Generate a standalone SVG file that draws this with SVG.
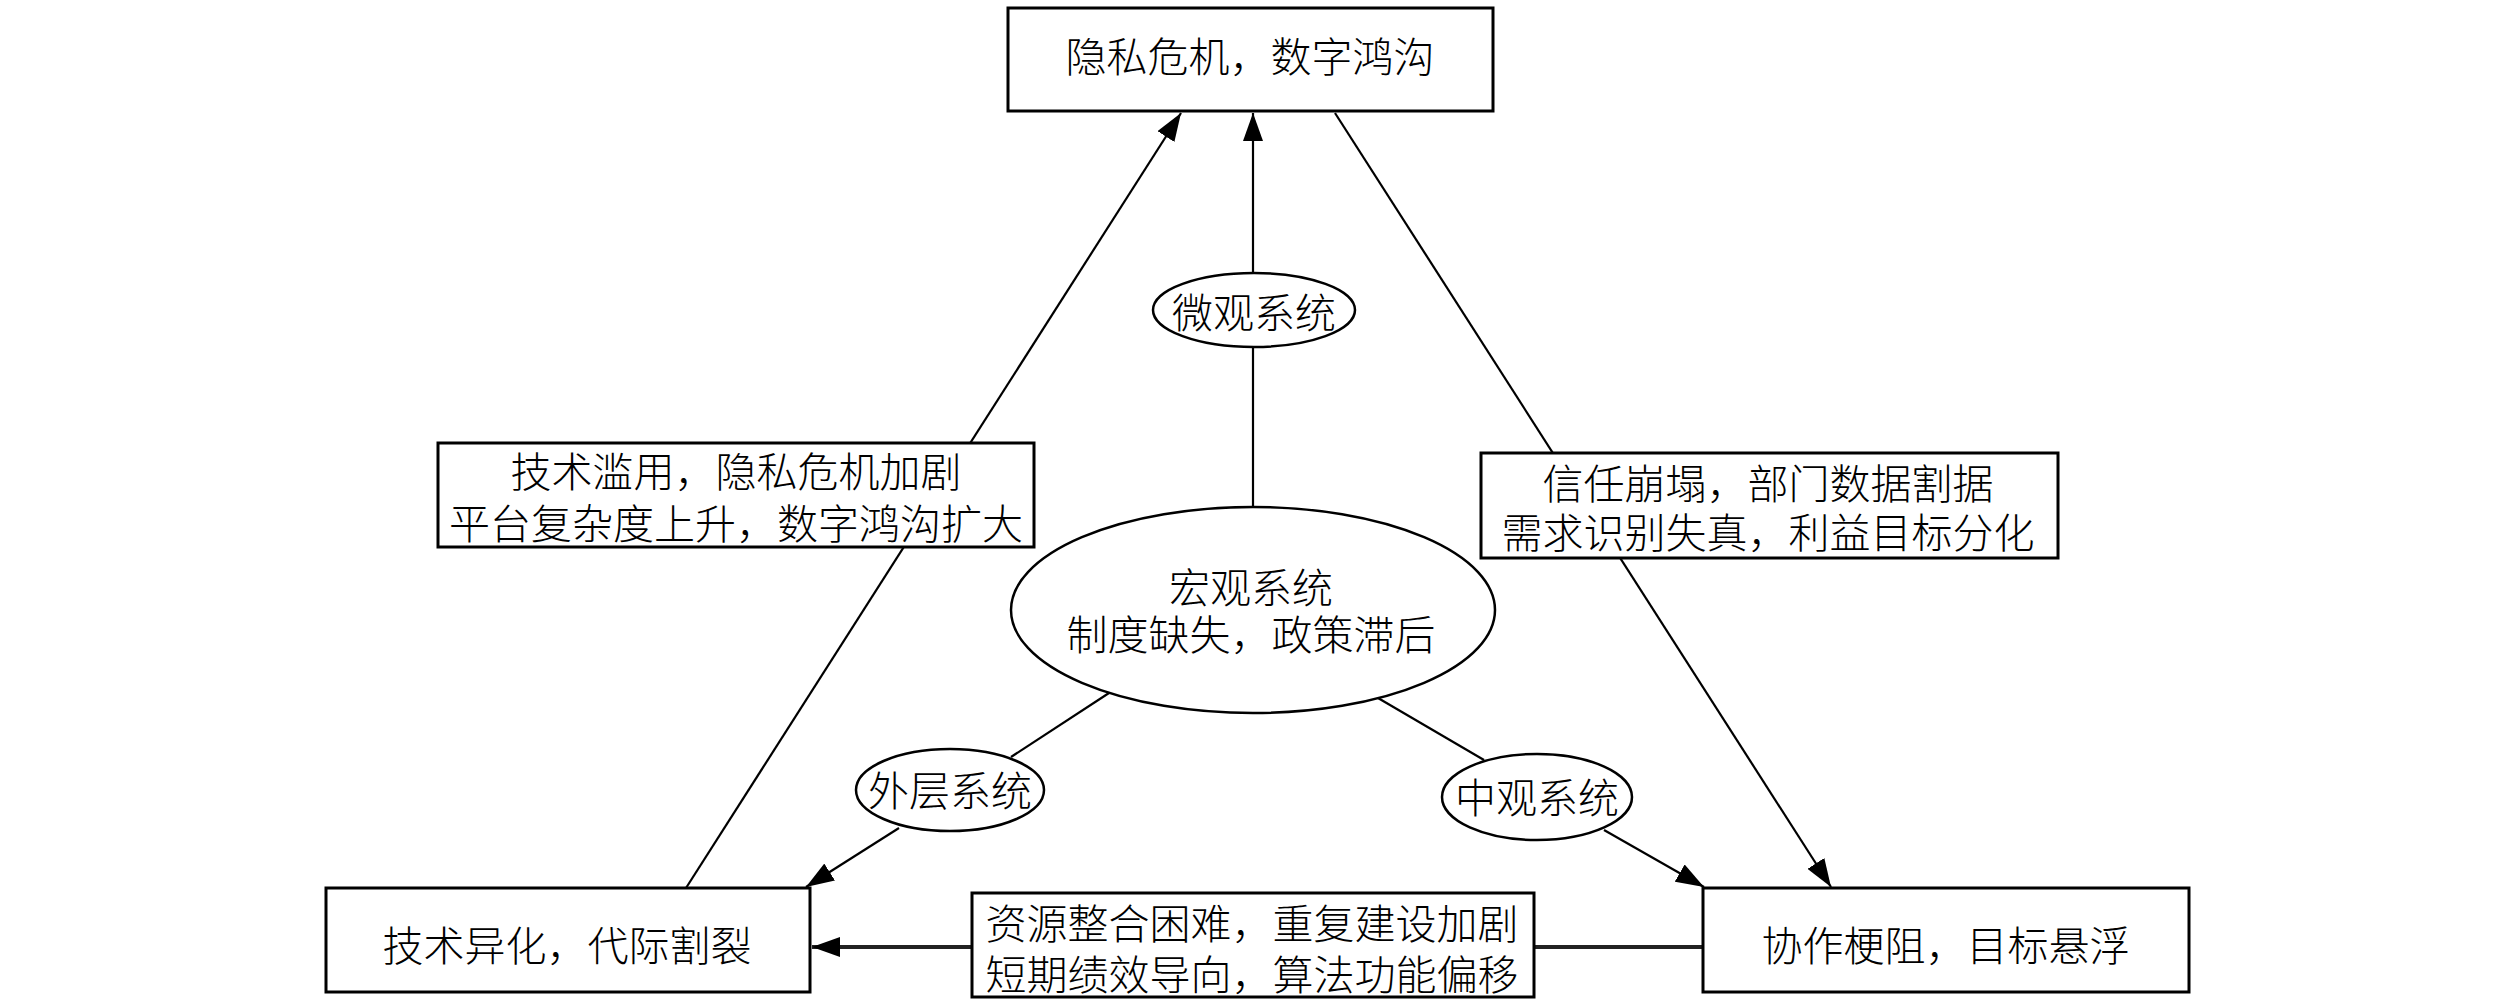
<svg xmlns="http://www.w3.org/2000/svg" width="2520" height="1001" viewBox="0 0 2520 1001">
<defs>
<style>
.box{fill:#fff;stroke:#000;stroke-width:3}
.ell{fill:#fff;stroke:#000;stroke-width:2.5}
.ln{fill:none;stroke:#000;stroke-width:2.2}
.thick{fill:none;stroke:#222;stroke-width:4}
text{font-family:"Noto Sans CJK SC","Noto Sans CJK JP",sans-serif;font-size:41px;font-weight:300;fill:#000;text-anchor:middle}
</style>
<marker id="arr" markerUnits="userSpaceOnUse" markerWidth="28" markerHeight="20" refX="28" refY="10" orient="auto">
<path d="M0,0 L28,10 L0,20 z" fill="#000"/>
</marker>
</defs>
<rect width="2520" height="1001" fill="#fff"/>
<g id="connectors">
<line class="ln" x1="686" y1="888" x2="1181" y2="113" marker-end="url(#arr)"/>
<line class="ln" x1="1253" y1="507" x2="1253" y2="347"/>
<line class="ln" x1="1253" y1="273" x2="1253" y2="113" marker-end="url(#arr)"/>
<line class="ln" x1="1335" y1="113" x2="1831" y2="887" marker-end="url(#arr)"/>
<line class="ln" x1="1109" y1="693" x2="1011" y2="757"/>
<line class="ln" x1="899" y1="828" x2="806" y2="887" marker-end="url(#arr)"/>
<line class="ln" x1="1378" y1="698" x2="1484" y2="760"/>
<line class="ln" x1="1604" y1="830" x2="1704" y2="887" marker-end="url(#arr)"/>
<line class="thick" x1="1703" y1="947" x2="812" y2="947" marker-end="url(#arr)"/>
</g>
<g id="top">
<rect class="box" x="1008" y="8" width="485" height="103"/>
<text x="1250" y="72">隐私危机，数字鸿沟</text>
</g>
<g id="micro">
<ellipse class="ell" cx="1254" cy="310" rx="101" ry="37"/>
<text x="1254" y="328">微观系统</text>
</g>
<g id="label-left">
<rect class="box" x="438" y="443" width="596" height="104"/>
<text x="736" y="487"><tspan x="736" y="487">技术滥用，隐私危机加剧</tspan><tspan x="736" y="539">平台复杂度上升，数字鸿沟扩大</tspan></text>
</g>
<g id="label-right">
<rect class="box" x="1481" y="453" width="577" height="105"/>
<text x="1768" y="499"><tspan x="1768" y="499">信任崩塌，部门数据割据</tspan><tspan x="1768" y="548">需求识别失真，利益目标分化</tspan></text>
</g>
<g id="macro">
<ellipse class="ell" cx="1253" cy="610" rx="242" ry="103"/>
<text x="1251" y="603"><tspan x="1251" y="603">宏观系统</tspan><tspan x="1251" y="650">制度缺失，政策滞后</tspan></text>
</g>
<g id="outer">
<ellipse class="ell" cx="950" cy="790" rx="94" ry="41"/>
<text x="950" y="806">外层系统</text>
</g>
<g id="meso">
<ellipse class="ell" cx="1537" cy="797" rx="95" ry="43"/>
<text x="1537" y="813">中观系统</text>
</g>
<g id="bottom-left">
<rect class="box" x="326" y="888" width="484" height="104"/>
<text x="567" y="961">技术异化，代际割裂</text>
</g>
<g id="bottom-right">
<rect class="box" x="1703" y="888" width="486" height="104"/>
<text x="1946" y="961">协作梗阻，目标悬浮</text>
</g>
<g id="label-bottom">
<rect class="box" x="972" y="893" width="562" height="104"/>
<text x="1252" y="939"><tspan x="1252" y="939">资源整合困难，重复建设加剧</tspan><tspan x="1252" y="990">短期绩效导向，算法功能偏移</tspan></text>
</g>
</svg>
